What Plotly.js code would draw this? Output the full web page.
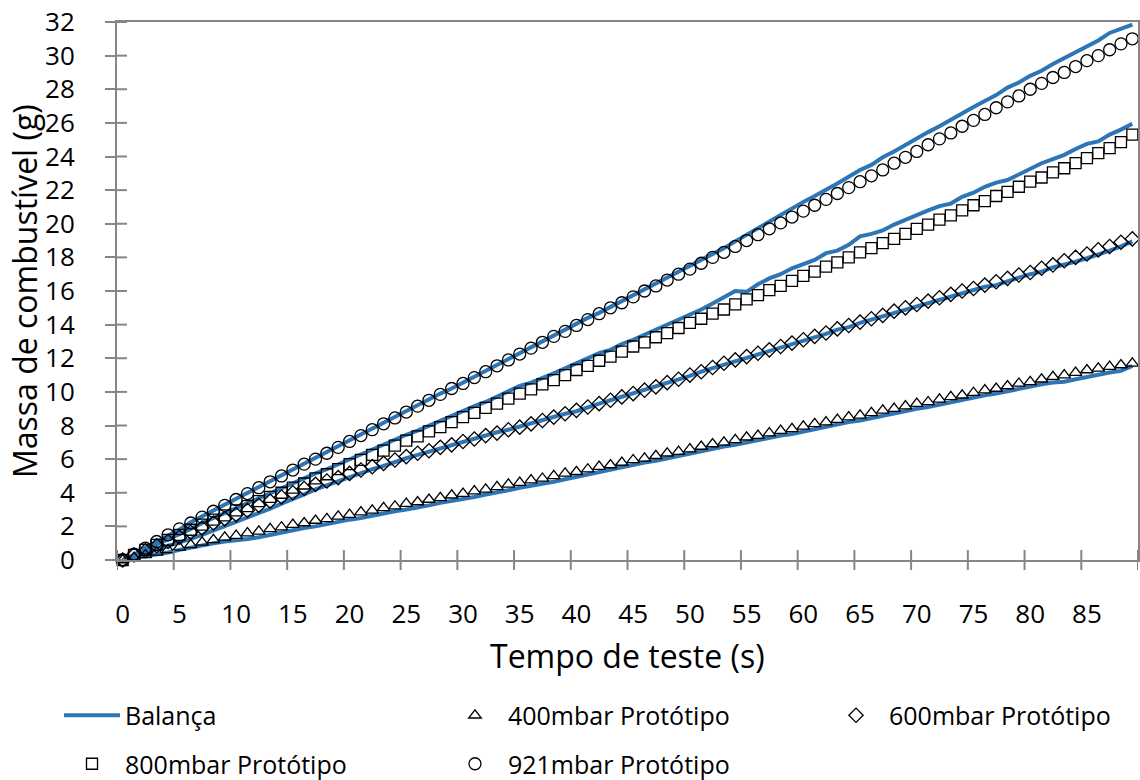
<!DOCTYPE html>
<html><head><meta charset="utf-8">
<script src="https://cdn.plot.ly/plotly-3.0.1.min.js"></script>
<style>html,body{margin:0;padding:0;background:#fff}</style>
</head><body><div id="chart" style="width:1140px;height:780px"></div>
<script>
// categories (test time, s)
const tempo = [0,1,2,3,4,5,6,7,8,9,10,11,12,13,14,15,16,17,18,19,20,21,22,23,24,25,26,27,28,29,30,31,32,33,34,35,36,37,38,39,40,41,42,43,44,45,46,47,48,49,50,51,52,53,54,55,56,57,58,59,60,61,62,63,64,65,66,67,68,69,70,71,72,73,74,75,76,77,78,79,80,81,82,83,84,85,86,87,88,89];
const xTickLabels = [0,5,10,15,20,25,30,35,40,45,50,55,60,65,70,75,80,85];
const xTickBounds = [-0.5,4.5,9.5,14.5,19.5,24.5,29.5,34.5,39.5,44.5,49.5,54.5,59.5,64.5,69.5,74.5,79.5,84.5,89.5];
const yTicks = [0,2,4,6,8,10,12,14,16,18,20,22,24,26,28,30,32];
const xTitle = 'Tempo de teste (s)';
const yTitle = 'Massa de combustível (g)';

// Balança (scale) series
const balanca400 = [0,0.1,0.2,0.3,0.45,0.6,0.75,0.9,1.0,1.1,1.15,1.25,1.35,1.5,1.65,1.8,1.9,2.0,2.15,2.25,2.4,2.5,2.65,2.75,2.9,3.0,3.1,3.25,3.4,3.5,3.65,3.75,3.9,4.0,4.15,4.3,4.4,4.55,4.65,4.8,4.95,5.1,5.2,5.35,5.5,5.65,5.8,5.9,6.05,6.15,6.3,6.45,6.6,6.75,6.85,7.0,7.1,7.25,7.4,7.5,7.65,7.8,7.95,8.05,8.2,8.3,8.45,8.55,8.7,8.85,9.0,9.1,9.25,9.4,9.5,9.65,9.8,9.9,10.05,10.2,10.3,10.45,10.55,10.6,10.75,10.9,11.05,11.15,11.25,11.55];
const balanca600 = [0,0.2,0.4,0.6,0.8,1.0,1.25,1.5,1.75,2.0,2.25,2.5,2.8,3.05,3.35,3.6,3.9,4.2,4.45,4.7,4.95,5.2,5.4,5.6,5.85,6.05,6.25,6.45,6.65,6.85,7.05,7.25,7.4,7.6,7.75,7.95,8.1,8.35,8.5,8.7,8.85,9.1,9.3,9.5,9.7,9.9,10.1,10.3,10.5,10.7,10.95,11.2,11.4,11.6,11.85,12.05,12.2,12.45,12.65,12.85,13.05,13.25,13.45,13.7,13.85,14.1,14.3,14.45,14.7,14.85,15.1,15.3,15.5,15.7,15.85,16.05,16.25,16.35,16.6,16.8,17.0,17.15,17.4,17.55,17.75,17.95,18.15,18.4,18.65,18.95];
const balanca800 = [0,0.3,0.6,0.95,1.25,1.55,1.85,2.2,2.5,2.8,3.1,3.4,3.7,4.0,4.3,4.6,4.85,5.15,5.4,5.7,6.0,6.25,6.6,6.85,7.15,7.45,7.7,8.0,8.3,8.6,8.85,9.15,9.4,9.7,10.0,10.35,10.55,10.8,11.1,11.4,11.7,11.95,12.3,12.5,12.85,13.1,13.4,13.65,13.95,14.3,14.6,14.9,15.25,15.6,16.0,15.95,16.4,16.75,17.0,17.35,17.6,17.85,18.25,18.4,18.75,19.25,19.4,19.6,19.95,20.25,20.5,20.8,21.05,21.2,21.6,21.85,22.2,22.45,22.6,22.95,23.3,23.6,23.85,24.1,24.45,24.75,24.9,25.3,25.6,25.95];
const balanca921 = [0,0.3,0.75,1.1,1.45,1.8,2.25,2.6,2.9,3.3,3.65,3.95,4.35,4.7,5.0,5.4,5.75,6.05,6.4,6.75,7.1,7.45,7.8,8.15,8.5,8.85,9.2,9.55,9.9,10.2,10.55,10.9,11.3,11.6,11.95,12.3,12.65,13.0,13.35,13.7,14.05,14.4,14.7,15.05,15.4,15.75,16.1,16.4,16.8,17.15,17.5,17.85,18.2,18.55,18.95,19.35,19.7,20.1,20.5,20.9,21.3,21.65,22.0,22.4,22.8,23.2,23.5,23.95,24.3,24.7,25.1,25.45,25.8,26.2,26.55,26.95,27.3,27.65,28.1,28.4,28.8,29.1,29.5,29.85,30.15,30.55,30.9,31.35,31.6,31.85];

// Protótipo series
const prot400 = [0,0.15,0.3,0.45,0.6,0.75,0.9,1.05,1.2,1.35,1.45,1.6,1.7,1.85,1.95,2.1,2.2,2.35,2.45,2.6,2.7,2.85,2.95,3.1,3.2,3.35,3.45,3.6,3.7,3.85,3.95,4.1,4.2,4.35,4.5,4.6,4.75,4.85,5.0,5.15,5.25,5.4,5.55,5.65,5.8,5.95,6.05,6.2,6.35,6.45,6.6,6.75,6.9,7.0,7.15,7.3,7.4,7.55,7.7,7.8,7.95,8.1,8.2,8.35,8.5,8.6,8.75,8.9,9.0,9.15,9.3,9.4,9.55,9.7,9.8,9.95,10.1,10.2,10.35,10.5,10.6,10.75,10.9,11.0,11.15,11.3,11.4,11.5,11.6,11.7];
const prot600 = [0,0.3,0.55,0.85,1.1,1.35,1.65,1.9,2.2,2.45,2.7,2.95,3.25,3.5,3.75,4.0,4.25,4.5,4.7,4.9,5.15,5.35,5.55,5.75,5.95,6.15,6.35,6.5,6.7,6.85,7.05,7.2,7.4,7.55,7.75,7.9,8.1,8.3,8.5,8.7,8.9,9.1,9.3,9.5,9.7,9.9,10.1,10.3,10.55,10.75,11.0,11.2,11.45,11.7,11.9,12.1,12.3,12.5,12.7,12.9,13.1,13.3,13.5,13.75,13.95,14.15,14.35,14.55,14.8,15.0,15.2,15.4,15.6,15.8,16.0,16.15,16.35,16.55,16.75,16.95,17.1,17.35,17.55,17.8,18.0,18.2,18.45,18.65,18.9,19.1];
const prot800 = [0,0.3,0.6,0.9,1.2,1.5,1.8,2.1,2.4,2.65,2.95,3.2,3.5,3.75,4.0,4.3,4.55,4.85,5.1,5.4,5.7,5.95,6.25,6.5,6.8,7.1,7.35,7.65,7.9,8.2,8.5,8.75,9.05,9.3,9.6,9.9,10.15,10.45,10.7,11.0,11.3,11.55,11.85,12.1,12.4,12.7,12.95,13.25,13.5,13.8,14.1,14.35,14.65,14.9,15.2,15.5,15.75,16.05,16.3,16.6,16.9,17.15,17.45,17.7,18.0,18.3,18.55,18.85,19.1,19.4,19.7,19.95,20.25,20.5,20.8,21.1,21.35,21.65,21.9,22.2,22.5,22.75,23.05,23.3,23.6,23.9,24.2,24.5,24.85,25.3];
const prot921 = [0,0.35,0.7,1.1,1.5,1.85,2.2,2.55,2.9,3.25,3.6,3.95,4.3,4.65,5.0,5.35,5.7,6.0,6.35,6.7,7.05,7.4,7.75,8.1,8.45,8.8,9.15,9.5,9.85,10.2,10.5,10.85,11.2,11.55,11.9,12.25,12.6,12.95,13.3,13.6,13.95,14.3,14.65,15.0,15.3,15.65,16.0,16.3,16.65,17.0,17.3,17.65,18.0,18.3,18.65,19.0,19.35,19.7,20.05,20.4,20.75,21.1,21.45,21.8,22.15,22.5,22.85,23.2,23.6,23.95,24.3,24.7,25.05,25.4,25.8,26.15,26.5,26.9,27.25,27.6,28.0,28.35,28.7,29.0,29.35,29.7,30.0,30.35,30.7,31.0];

const FONT = 'Open Sans, Noto Sans, sans-serif';
const BLUE = '#2E75B6';
const GRAY = '#868686';

function lineTrace(y, show) {
  return {x: tempo, y: y, type: 'scatter', mode: 'lines', name: 'Balança',
    line: {color: BLUE, width: 4}, legendgroup: 'bal', showlegend: show, legend: 'legend', hoverinfo: 'skip'};
}
function markerTrace(y, sym, size, name, leg) {
  return {x: tempo, y: y, type: 'scatter', mode: 'markers', name: name, legend: leg,
    cliponaxis: false,
    marker: {symbol: sym, size: size, color: '#000', line: {color: '#000', width: 1.3}}};
}

const data = [
  lineTrace(balanca400, true),
  lineTrace(balanca600, false),
  lineTrace(balanca800, false),
  lineTrace(balanca921, false),
  markerTrace(prot400, 'triangle-up-open', 11, '400mbar Protótipo', 'legend2'),
  markerTrace(prot600, 'diamond-open', 11, '600mbar Protótipo', 'legend3'),
  markerTrace(prot800, 'square-open', 11, '800mbar Protótipo', 'legend4'),
  markerTrace(prot921, 'circle-open', 12, '921mbar Protótipo', 'legend5')
];

const shapes = [];
xTickBounds.forEach(b => shapes.push({type: 'line', xref: 'x', yref: 'paper', x0: b, x1: b,
  ysizemode: 'pixel', yanchor: 0, y0: -10, y1: 10, line: {color: GRAY, width: 2}}));
yTicks.forEach(v => shapes.push({type: 'line', yref: 'y', xref: 'paper', y0: v, y1: v,
  xsizemode: 'pixel', xanchor: 0, x0: 0, x1: 10, line: {color: GRAY, width: 2}}));

function leg(x, y) {
  return {x: x, y: y, xanchor: 'left', yanchor: 'middle', orientation: 'h',
    font: {family: FONT, size: 25, color: '#000'}, itemwidth: 56,
    bgcolor: 'rgba(0,0,0,0)', borderwidth: 0};
}

const layout = {
  width: 1140, height: 780,
  margin: {l: 117, r: 2, t: 22, b: 220, autoexpand: false},
  paper_bgcolor: '#fff', plot_bgcolor: '#fff',
  font: {family: FONT, color: '#000'},
  xaxis: {
    range: [-0.5, 89.5], tickvals: xTickLabels, ticktext: xTickLabels.map(String),
    ticks: '', ticklabelstandoff: 30, tickfont: {family: FONT, size: 26, color: '#000'},
    automargin: false,
    showline: true, mirror: true, linecolor: GRAY, linewidth: 2, showgrid: false, zeroline: false
  },
  yaxis: {
    range: [0, 32], tickvals: yTicks, ticks: 'outside', ticklen: 10, tickwidth: 2, tickcolor: GRAY,
    ticklabelstandoff: 25, tickfont: {family: FONT, size: 26, color: '#000'},
    automargin: false,
    showline: true, mirror: true, linecolor: GRAY, linewidth: 2, showgrid: false, zeroline: false
  },
  annotations: [
    {text: xTitle, xref: 'paper', yref: 'paper', x: 0.5, y: -0.1766, xanchor: 'center', yanchor: 'middle',
     showarrow: false, font: {family: FONT, size: 32, color: '#000'}},
    {text: yTitle, xref: 'paper', yref: 'paper', x: -0.0911, y: 0.5, xanchor: 'center', yanchor: 'middle',
     textangle: -90, showarrow: false, font: {family: FONT, size: 32, color: '#000'}}
  ],
  shapes: shapes,
  legend: leg(-0.0568, -0.2890),
  legend2: leg(0.3183, -0.2890),
  legend3: leg(0.6915, -0.2890),
  legend4: leg(-0.0568, -0.3792),
  legend5: leg(0.3183, -0.3792),
  showlegend: true
};

Plotly.newPlot('chart', data, layout, {displayModeBar: false, staticPlot: true});
</script></body></html>
